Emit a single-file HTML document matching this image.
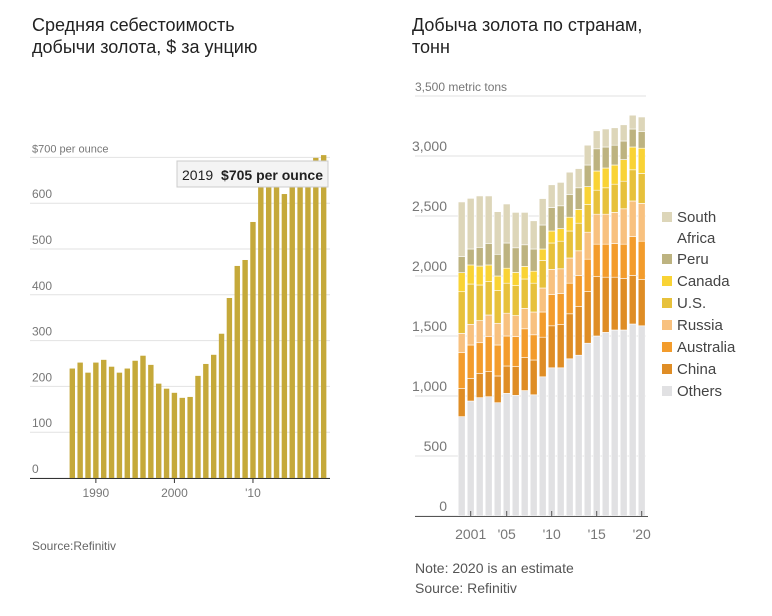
<!DOCTYPE html>
<html><head><meta charset="utf-8"><style>
body{margin:0;background:#fff;}
svg{display:block;font-family:"Liberation Sans","DejaVu Sans",sans-serif;}
</style></head><body>
<svg id="c" width="772" height="616" xmlns="http://www.w3.org/2000/svg">
<text x="32" y="31" font-size="18" fill="#222">Средняя себестоимость</text>
<text x="32" y="53" font-size="18" fill="#222">добычи золота, $ за унцию</text>
<text x="412" y="31" font-size="18" fill="#222">Добыча золота по странам,</text>
<text x="412" y="53" font-size="18" fill="#222">тонн</text>
<g id="left"></g>
<g id="right"></g>
<text x="32" y="550" font-size="12" fill="#666">Source:Refinitiv</text>
<text x="415" y="573" font-size="14" fill="#555">Note: 2020 is an estimate</text>
<text x="415" y="593" font-size="14" fill="#555">Source: Refinitiv</text>
</svg>
<script>
const costYears=[1987,1988,1989,1990,1991,1992,1993,1994,1995,1996,1997,1998,1999,2000,2001,2002,2003,2004,2005,2006,2007,2008,2009,2010,2011,2012,2013,2014,2015,2016,2017,2018,2019];
const costValues=[239,252,230,252,258,243,230,239,256,267,247,206,195,186,175,177,223,249,269,315,393,463,476,559,650,660,665,620,640,650,660,699,705];
const costTicks=[0,100,200,300,400,500,600,700];
const costXTicks=[[1990,"1990"],[2000,"2000"],[2010,"'10"]];

const prodYears=[2000,2001,2002,2003,2004,2005,2006,2007,2008,2009,2010,2011,2012,2013,2014,2015,2016,2017,2018,2019,2020];
const others=[828,958,986,994,944,1022,1005,1045,1010,1160,1235,1235,1310,1340,1440,1500,1530,1550,1550,1600,1585];
const china=[236,189,203,209,223,228,240,275,290,330,350,360,375,405,430,495,460,440,430,405,385];
const australia=[297,278,255,291,258,250,250,240,210,210,260,260,255,260,270,270,275,280,285,325,320];
const russia=[161,172,184,181,181,190,175,170,190,200,210,205,210,205,225,250,250,260,295,295,315];
const us=[347,336,297,278,272,250,250,245,240,230,220,230,225,230,230,200,220,235,230,260,250];
const canada=[159,159,158,139,122,125,110,105,100,95,100,105,115,115,150,160,165,160,180,190,210];
const peru=[133,133,156,180,181,210,205,180,185,200,195,190,190,180,180,185,175,165,155,150,140];
const southAfrica=[456,422,428,395,355,325,295,270,235,220,190,195,185,160,165,150,150,145,135,115,120];
const prodTicks=[0,500,1000,1500,2000,2500,3000,3500];
const prodXTicks=[[2001,"2001"],[2005,"'05"],[2010,"'10"],[2015,"'15"],[2020,"'20"]];

const NS="http://www.w3.org/2000/svg";
function mk(parent,tag,attrs){const e=document.createElementNS(NS,tag);for(const k in attrs)e.setAttribute(k,attrs[k]);parent.appendChild(e);return e;}

// Left chart
const L=document.getElementById('left');
const lx=y=>72.3+(y-1987)*7.855;
const ly=v=>478-v*0.458;
costTicks.forEach(t=>{
  const g=mk(L,'line',{x1:30,x2:330,y1:ly(t),y2:ly(t),stroke:'#e2e2e2','stroke-width':1});
  
  
  const tx=mk(L,'text',{x:32,y:ly(t)-5,'font-size':t===700?11:12,fill:'#777'});
  tx.textContent=t===700?'$700 per ounce':String(t);
  
  
});
costValues.forEach((v,i)=>{
  const r=mk(L,'rect',{x:lx(costYears[i])-2.7,y:ly(v),width:5.4,height:ly(0)-ly(v),fill:'#c5a93a'});
  
  
});
const lb=mk(L,'line',{x1:30,x2:330,y1:478.5,y2:478.5,stroke:'#333','stroke-width':1});


costXTicks.forEach(t=>{
  const tk=mk(L,'line',{x1:lx(t[0]),x2:lx(t[0]),y1:479,y2:483,stroke:'#333'});
  
  
  const tx=mk(L,'text',{x:lx(t[0]),y:497,'font-size':12,fill:'#777','text-anchor':'middle'});
  tx.textContent=t[1];
  
  
});
const tipBox=mk(L,'rect',{x:177,y:161,width:151,height:26,fill:'#f4f4f4',stroke:'#ccc'});


const tip=mk(L,'text',{x:182,y:180,'font-size':14,fill:'#222'});


tip.innerHTML='2019 <tspan dx="4" font-weight="bold">$'+costValues[costValues.length-1]+' per ounce</tspan>';

// Right chart
const R=document.getElementById('right');
const rx=y=>461.7+(y-2000)*9;
const ry=v=>516-v*0.12;
prodTicks.forEach(t=>{
  const g=mk(R,'line',{x1:415,x2:646,y1:ry(t),y2:ry(t),stroke:'#e2e2e2'});
  
  
  const tx=mk(R,'text',{x:t===3500?415:447,y:ry(t)-5,'font-size':t===3500?12:14,fill:'#777','text-anchor':t===3500?'start':'end'});
  tx.textContent=t===3500?'3,500 metric tons':t.toLocaleString('en-US');
  
  
});
const series=[["Others",others,"#e1e1e3"],["China",china,"#df8d25"],["Australia",australia,"#f39c2c"],["Russia",russia,"#f8c17f"],["U.S.",us,"#e7c13b"],["Canada",canada,"#f9d335"],["Peru",peru,"#bdb380"],["South Africa",southAfrica,"#ddd6b9"]];
prodYears.forEach((yr,i)=>{
  let base=0;
  series.forEach(s=>{
    const v=s[1][i];
    const r=mk(R,'rect',{x:rx(yr)-3.5,y:ry(base+v),width:7,height:ry(base)-ry(base+v),fill:s[2],stroke:'#fff','stroke-width':0.6});
    
    
    base+=v;
  });
});
const rb=mk(R,'line',{x1:415,x2:648,y1:516.5,y2:516.5,stroke:'#555','stroke-width':1});


prodXTicks.forEach(t=>{
  const tk=mk(R,'line',{x1:rx(t[0]),x2:rx(t[0]),y1:511,y2:517,stroke:'#555'});
  
  
  const tx=mk(R,'text',{x:rx(t[0]),y:539,'font-size':14,fill:'#777','text-anchor':'middle'});
  tx.textContent=t[1];
  
  
});
const legRows=[["South Africa",217],["Peru",259],["Canada",281],["U.S.",303],["Russia",325],["Australia",347],["China",369],["Others",391]];
legRows.forEach(lr=>{
  const s=series.find(q=>q[0]===lr[0]);
  const sq=mk(R,'rect',{x:662,y:lr[1]-5,width:10,height:10,fill:s[2]});
  
  
  const tx=mk(R,'text',{x:677,y:lr[1]+5,'font-size':15,fill:'#444'});
  
  
  if(lr[0]==="South Africa"){tx.innerHTML='South<tspan x="677" dy="21">Africa</tspan>';}
  else tx.textContent=lr[0];
});
</script>
</body></html>
